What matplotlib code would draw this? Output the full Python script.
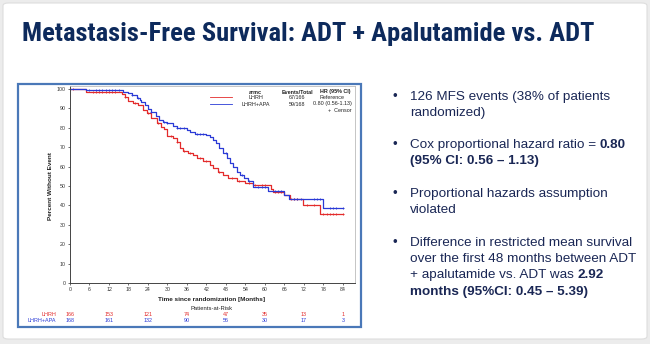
"""Metastasis-free survival slide: KM curves ADT + apalutamide vs ADT, with bullet notes."""
import numpy as np
import matplotlib
matplotlib.use('Agg')
import matplotlib.pyplot as plt
from matplotlib import font_manager
from matplotlib.patches import Rectangle, FancyBboxPatch
from matplotlib.text import Annotation

W, H = 650, 344

# KM step data (months, percent without event)
red_t = [0, 5, 15.9, 17, 18, 19.5, 21, 22.5, 23.6, 25, 26.7, 28, 29, 30, 31.8, 32.8,
         33.8, 34.9, 36.4, 38, 39, 41, 43, 44, 45.6, 47, 48.7, 51.3, 53.8, 56.4, 61.7,
         62.6, 66, 67.7, 71.7, 76.9]
red_s = [100, 98.5, 97.5, 95.7, 94, 92.6, 91.5, 89, 87.5, 84.9, 82.3, 80.6, 79.2, 75.8,
         74.6, 72.9, 69.4, 68.2, 66.8, 66, 64.3, 63, 60.8, 59.1, 57.4, 55.7, 54, 52.7,
         51.4, 50.5, 48.3, 47, 45.4, 43.3, 40, 35.6]
blue_t = [0, 5, 16.4, 18, 19, 20.5, 21.5, 22, 23, 24, 25, 26.5, 27.5, 28.5, 29.7,
          31.8, 32.8, 36, 37, 38.5, 42, 43, 44, 45, 46, 47.2, 48.2, 49.2, 50.3, 51.3,
          52.3, 53.5, 54.9, 56.4, 61, 66, 67.5, 78]
blue_s = [100, 99.3, 98.5, 97.8, 97, 95.5, 94.5, 93.5, 91.5, 89.5, 88, 86, 84, 83,
          82.2, 81, 79.7, 78.8, 77.8, 77, 76.4, 75.2, 73.7, 72, 69.4, 66.8, 64.3, 61.7,
          59.6, 57.4, 55.7, 54.3, 52.6, 49.3, 47.6, 45.4, 43.5, 38.5]
red_censor = [1, 7, 8, 9, 10, 11, 12, 13, 14, 17, 20, 24, 27, 31, 33, 35, 37, 40, 42, 46,
              50, 52, 55, 57, 59, 60, 63, 64, 65, 68, 69, 70, 73, 75, 78, 79, 80, 81, 82, 84]
blue_censor = [6, 8, 9, 10, 11, 12, 13, 14, 15, 19, 21, 25, 29, 30, 33, 34, 35, 39, 40, 41,
               48, 53, 55, 58, 59, 60, 63, 64, 65, 69, 70, 71, 75, 76, 77, 80, 81, 82, 84]
END_T = 84

risk_times = [0, 12, 24, 36, 48, 60, 72, 84]
risk_lhrh = [166, 153, 121, 74, 47, 35, 13, 1]
risk_apa = [168, 161, 132, 90, 56, 30, 17, 3]

RED = '#e32b2b'
BLUE = '#2a3ad6'
NAVY = '#0d2a5c'
TEXT = '#1a2755'

plt.rcParams['font.family'] = ['Liberation Sans', 'DejaVu Sans']
installed = {f.name for f in font_manager.fontManager.ttflist}
narrow = [f for f in ['Liberation Sans Narrow', 'Roboto Condensed', 'Open Sans Condensed',
                      'Roboto'] if f in installed]
TITLE_FONT = narrow[0] if narrow else 'Liberation Sans'


def px(x, y):
    return x / W, 1 - y / H


fig = plt.figure(figsize=(W / 100, H / 100), dpi=100, facecolor='#ececec')
fig.patches.append(FancyBboxPatch(px(3, 339), 644 / W, 336 / H,
                                  boxstyle='round,pad=0,rounding_size=0.008',
                                  transform=fig.transFigure, facecolor='white',
                                  edgecolor='#dddddd', lw=0.8, zorder=-5))

# title, fitted to the reference width
title = fig.text(*px(22, 41), 'Metastasis-Free Survival: ADT + Apalutamide vs. ADT',
                 family=TITLE_FONT, fontsize=21.5, fontweight='bold', color=NAVY,
                 fontstretch='condensed', ha='left', va='baseline')
renderer = fig.canvas.get_renderer()
tw = title.get_window_extent(renderer).width
title.set_fontsize(21.5 * 571 / tw)

# chart box
fig.patches.append(Rectangle(px(18, 327), 343 / W, 243 / H, transform=fig.transFigure,
                             fill=False, edgecolor='#4a78b8', lw=1.6, zorder=1))

l, r_, t_, b_ = 70, 355, 86, 283
ax = fig.add_axes([l / W, 1 - b_ / H, (r_ - l) / W, (b_ - t_) / H], zorder=2)
ax.set_facecolor('white')


def step_val(ts, ss, x):
    return np.asarray(ss)[np.searchsorted(ts, x, side='right') - 1]


for ts, ss, cens, col in [(red_t, red_s, red_censor, RED), (blue_t, blue_s, blue_censor, BLUE)]:
    ax.step(list(ts) + [END_T], list(ss) + [ss[-1]], where='post', color=col, lw=0.9)
    ax.plot(cens, step_val(ts, ss, cens), ls='none', marker='+', ms=1.8, mew=0.6, color=col)

ax.set_xlim(0, 87.7)
ax.set_ylim(0, 101.5)
ax.set_xticks(range(0, 85, 6))
ax.set_yticks(range(0, 101, 10))
ax.tick_params(labelsize=3.8, length=1.5, width=0.5, pad=1.5, colors='#333333')
for s in ['left', 'bottom']:
    ax.spines[s].set_color('#444444')
    ax.spines[s].set_linewidth(0.7)
for s in ['top', 'right']:
    ax.spines[s].set_color('#bbbbbb')
    ax.spines[s].set_linewidth(0.6)

fig.text(*px(50, 186), 'Percent Without Event', rotation=90, fontsize=4.6,
         fontweight='bold', ha='center', va='center', color='#222222')
fig.text(*px(212, 299), 'Time since randomization [Months]', fontsize=4.6,
         fontweight='bold', ha='center', va='center', color='#222222')
fig.text(*px(212, 308), 'Patients-at-Risk', fontsize=4.2, ha='center', va='center',
         color='#222222')

# at-risk table, numbers under the month ticks
for lab, vals, col, y in [('LHRH', risk_lhrh, RED, 314), ('LHRH+APA', risk_apa, BLUE, 320)]:
    fig.text(*px(56, y), lab, fontsize=3.9, color=col, ha='right', va='center')
    for tm, v in zip(risk_times, vals):
        xf = fig.transFigure.inverted().transform(ax.transData.transform((tm, 0)))[0]
        fig.text(xf, 1 - y / H, str(v), fontsize=3.9, color=col, ha='center', va='center')

# legend block
lg = dict(fontsize=3.9, va='center', color='#222222')
fig.text(*px(255, 92), 'armc', ha='center', fontweight='bold', **lg)
fig.text(*px(297, 92), 'Events/Total', ha='center', fontweight='bold', **lg)
fig.text(*px(335, 92), 'HR (95% CI)', ha='center', fontweight='bold', **lg)
for lab, ev, hr, col, y in [('LHRH', '67/166', 'Reference', RED, 97.5),
                            ('LHRH+APA', '59/168', '0.80 (0.56-1.13)', BLUE, 104)]:
    fig.lines.append(plt.Line2D([210 / W, 232 / W], [1 - y / H] * 2, color=col, lw=0.6,
                                transform=fig.transFigure))
    fig.text(*px(256, y), lab, ha='center', **lg)
    fig.text(*px(297, y), ev, ha='center', **lg)
    fig.text(*px(332, y), hr, ha='center', **lg)
fig.text(*px(352, 111), '+  Censor', ha='right', **lg)

# bullet notes; each line is a list of (text, bold) runs
notes = [
    [[('126 MFS events (38% of patients', False)], [('randomized)', False)]],
    [[('Cox proportional hazard ratio = ', False), ('0.80', True)],
     [('(95% CI: 0.56 \u2013 1.13)', True)]],
    [[('Proportional hazards assumption', False)], [('violated', False)]],
    [[('Difference in restricted mean survival', False)],
     [('over the first 48 months between ADT', False)],
     [('+ apalutamide vs. ADT was ', False), ('2.92', True)],
     [('months (95%CI: 0.45 \u2013 5.39)', True)]],
]
group_y = [97, 145, 194, 243]
LINE = 16.2
for gy, lines in zip(group_y, notes):
    fig.text(*px(395, gy), '\u2022', fontsize=9.5, color=TEXT, ha='center', va='center')
    for i, runs in enumerate(lines):
        prev = None
        for txt, bold in runs:
            kw = dict(fontsize=9.7, color=TEXT, fontweight='bold' if bold else 'normal')
            if prev is None:
                prev = fig.text(*px(410, gy + i * LINE), txt, ha='left', va='center', **kw)
            else:
                # continue the line right after the previous run
                prev = fig.add_artist(Annotation(txt, xy=(1, 0.5), xycoords=prev,
                                                 ha='left', va='center', **kw))

fig.savefig('out.png', dpi=100, facecolor=fig.get_facecolor())
